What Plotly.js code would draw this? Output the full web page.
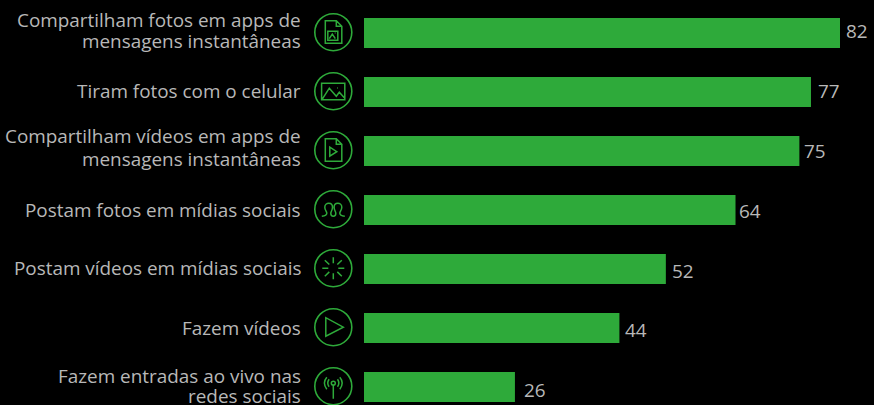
<!DOCTYPE html>
<html>
<head>
<meta charset="utf-8">
<script src="https://cdn.plot.ly/plotly-3.0.1.min.js"></script>
<style>html,body{margin:0;padding:0;background:#000;}#c{width:874px;height:405px;}</style>
</head>
<body>
<div id="c"></div>
<script>
const categories = [
  "Compartilham fotos em apps de mensagens instantâneas",
  "Tiram fotos com o celular",
  "Compartilham vídeos em apps de mensagens instantâneas",
  "Postam fotos em mídias sociais",
  "Postam vídeos em mídias sociais",
  "Fazem vídeos",
  "Fazem entradas ao vivo nas redes sociais"
];
const labelLines = [
  ["Compartilham fotos em apps de", "mensagens instantâneas"],
  ["Tiram fotos com o celular"],
  ["Compartilham vídeos em apps de", "mensagens instantâneas"],
  ["Postam fotos em mídias sociais"],
  ["Postam vídeos em mídias sociais"],
  ["Fazem vídeos"],
  ["Fazem entradas ao vivo nas", "redes sociais"]
];
const values = [82, 77, 75, 64, 52, 44, 26];

const GREEN = "#2eaa3a", TEXT = "#b8b8b8", FONT = '"Open Sans", sans-serif';
const W = 874, H = 405, LEFT = 364, PITCH = 59, TOP_CENTER = 33, UNIT = 476 / 82;
const labelGapX = [6, 7, 5, 3, 6, 6, 9];
const labelShiftY = [2, 1, 0, -1, -2, -2, -3];
const lineShiftY = [[13, -7.5], [1], [15, -7.5], [0], [1], [0], [11, -9]];

// icon strokes in px from the circle centre (y down)
const iconPaths = [
  "M-8 -11.5 H3 L8.5 -6 V11 H-8 Z M3 -11.5 V-6 H8.5 M-5.5 -1 H4.5 V8 H-5.5 Z M-4 6.5 L-1 2 L2 6.5 M1.5 0.8 L2.2 0.8",
  "M-11.7 -8 H11.5 V8.5 H-11.7 Z M-11 8 L-4 -3 L3 5 L6 1 L11 6.5 M4 -3.3 L4.7 -3.3",
  "M-8 -11.5 H3 L8.5 -6 V11 H-8 Z M3 -11.5 V-6 H8.5 M-3.5 -3 V6 L3.5 1.5 Z",
  "M-11.5 7 C-8 6.5 -6.5 6 -6.5 4 C-6.5 2.5 -8.5 1 -8.5 -2 C-8.5 -4.5 -6.5 -6 -4.5 -6 C-2.5 -6 -0.8 -4.5 -0.8 -2 C-0.8 1 -2.5 2.5 -2.5 4 C-2.5 6 -1 7 0 7 C1 7 2.5 6 2.5 4 C2.5 2.5 0.8 1 0.8 -2 C0.8 -4.5 2.5 -6 4.5 -6 C6.5 -6 8.5 -4.5 8.5 -2 C8.5 1 6.5 2.5 6.5 4 C6.5 6 8 6.5 11.5 7",
  "M0 -11 V-5 M8.5 -8 L4 -3.7 M11 0 H5 M8.5 8 L4 3.7 M0 11 V5 M-8.5 8 L-4 3.7 M-11 0 H-5 M-8.5 -8 L-4 -3.7",
  "M-7.5 -9.5 V9 L10 0 Z",
  "M0 -0.5 V12.5 M-2 -3 C-2 -5.6 2 -5.6 2 -3 C2 -0.6 -2 -0.6 -2 -3 Z M-4.2 0.5 C-6 -2 -6 -4.5 -4.2 -7 M4.2 0.5 C6 -2 6 -4.5 4.2 -7 M-6.5 3 C-9.5 -1 -9.5 -5.5 -6.5 -9 M6.5 3 C9.5 -1 9.5 -5.5 6.5 -9"
];

// flip y so pixel-sized shapes (y up) read as authored (y down)
function toShapePath(p) {
  const tok = p.match(/[A-Za-z]|-?\d+(?:\.\d+)?/g);
  let out = [], cmd = "", n = 0;
  for (const t of tok) {
    if (/[A-Za-z]/.test(t)) { cmd = t; n = 0; out.push(t); continue; }
    const isY = cmd === "V" || (cmd !== "H" && n % 2 === 1);
    out.push(isY ? String(-parseFloat(t)) : t);
    n++;
  }
  return out.join(" ");
}

const ICON_X = (333.3 - LEFT) / (W - LEFT);
const shapes = [];
const annotations = [];
const yIdx = i => i - 0.8 / PITCH;
categories.forEach((c, i) => {
  shapes.push({
    type: "circle", xref: "paper", yref: "y", xsizemode: "pixel", ysizemode: "pixel",
    xanchor: ICON_X, yanchor: yIdx(i), x0: -18.5, x1: 18.5, y0: -18.5, y1: 18.5,
    line: { color: GREEN, width: 1.6 }, fillcolor: "rgba(0,0,0,0)"
  });
  shapes.push({
    type: "path", xref: "paper", yref: "y", xsizemode: "pixel", ysizemode: "pixel",
    xanchor: ICON_X, yanchor: yIdx(i), path: toShapePath(iconPaths[i]),
    line: { color: GREEN, width: 1.5 }, fillcolor: "rgba(0,0,0,0)"
  });
  labelLines[i].forEach((t, k) => {
    annotations.push({
      text: t, xref: "paper", yref: "y", x: (303 - LEFT) / (W - LEFT), y: i,
      xanchor: "right", yanchor: "middle", showarrow: false, align: "right",
      yshift: lineShiftY[i][k],
      font: { family: FONT, size: 18.9, color: TEXT }
    });
  });
  annotations.push({
    text: String(values[i]), xref: "x", yref: "y", x: values[i], y: i,
    xanchor: "left", yanchor: "middle", showarrow: false,
    xshift: labelGapX[i] - 2, yshift: labelShiftY[i],
    font: { family: FONT, size: 18.9, color: TEXT }
  });
});

Plotly.newPlot("c", [{
  type: "bar", orientation: "h",
  x: values, y: categories.map((c, i) => i),
  marker: { color: GREEN, line: { width: 0 } },
  width: 30 / PITCH, hoverinfo: "skip"
}], {
  width: W, height: H,
  margin: { l: LEFT, r: 0, t: 0, b: 0, pad: 0 },
  paper_bgcolor: "#000", plot_bgcolor: "#000",
  showlegend: false,
  xaxis: { range: [0, (W - LEFT) / UNIT], visible: false, fixedrange: true },
  yaxis: { range: [(H - TOP_CENTER) / PITCH, -TOP_CENTER / PITCH], visible: false, fixedrange: true },
  shapes, annotations
}, { displayModeBar: false, staticPlot: true });
</script>
</body>
</html>
